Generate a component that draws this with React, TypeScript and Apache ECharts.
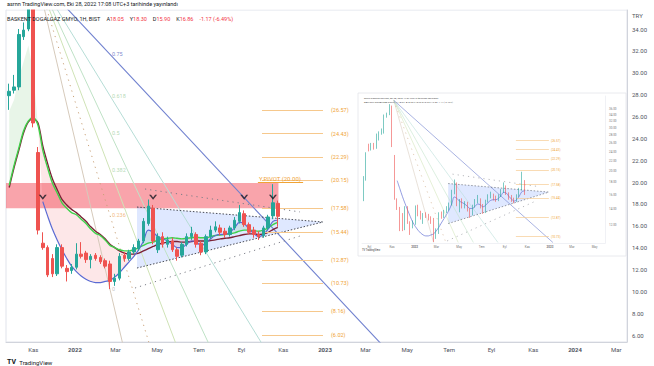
import React, { useEffect, useRef } from "react";
import * as echarts from "echarts";

// ---------- data (weekly candles, "1H" = 1 hafta) ----------
// x values are days counted from 2022-01-01; first weekly candle = 2021-09-27
const FIRST_WEEK_DAY = -96;
const WEEK_STEP = 7;

const candleOpen = [27.9, 28.4, 28.7, 33.3, 34.0, 36.5, 22.7, 14.4, 14.0, 13.0, 11.6, 14.0, 12.1, 11.9, 12.2, 13.4, 13.5, 12.9, 13.3, 13.1, 12.8, 12.5, 10.9, 11.2, 13.3, 13.0, 13.6, 13.9, 14.6, 16.2, 17.6, 13.8, 15.0, 14.3, 14.6, 13.8, 13.3, 14.3, 15.0, 15.2, 14.4, 13.6, 15.0, 15.6, 15.8, 15.5, 15.2, 15.8, 16.4, 17.1, 16.1, 15.6, 15.2, 15.1, 15.8, 16.9, 18.05];
const candleClose = [28.3, 28.7, 33.5, 33.9, 36.8, 25.4, 15.6, 14.0, 11.5, 11.6, 14.0, 12.3, 11.8, 12.2, 13.4, 13.2, 12.9, 13.2, 13.0, 12.7, 12.3, 10.9, 11.2, 13.2, 13.0, 13.6, 14.0, 14.6, 16.4, 17.8, 14.6, 15.0, 14.3, 14.7, 13.8, 13.2, 14.3, 15.0, 15.3, 14.3, 13.6, 15.0, 15.6, 15.9, 15.4, 15.2, 15.8, 16.5, 17.2, 16.1, 15.4, 15.2, 15.0, 15.8, 16.8, 18.1, 16.86];
const candleLow = [26.6, 28.1, 28.4, 33.0, 33.8, 25.0, 15.2, 13.8, 11.3, 11.3, 11.4, 12.1, 10.9, 11.6, 12.0, 13.0, 12.6, 12.1, 12.8, 12.5, 12.1, 10.2, 10.5, 11.0, 12.7, 12.8, 13.4, 13.7, 14.4, 16.0, 14.3, 13.5, 14.0, 14.0, 13.6, 12.8, 13.1, 14.1, 14.7, 14.0, 13.3, 13.4, 14.8, 15.4, 15.1, 14.9, 15.0, 15.6, 16.2, 15.9, 15.2, 14.9, 14.7, 14.9, 15.6, 16.6, 15.9];
const candleHigh = [29.0, 29.8, 34.0, 34.6, 37.5, 37.0, 23.2, 15.4, 14.2, 13.4, 14.3, 14.3, 12.4, 12.5, 14.4, 14.5, 13.7, 13.4, 13.5, 13.3, 13.0, 12.8, 11.6, 13.5, 13.6, 13.8, 14.3, 14.8, 16.7, 18.4, 17.9, 15.3, 15.4, 15.0, 14.9, 14.0, 14.5, 15.3, 15.9, 15.4, 14.6, 15.2, 16.0, 16.4, 16.1, 15.8, 16.0, 16.8, 17.9, 17.4, 16.3, 15.9, 15.5, 16.0, 17.0, 19.8, 18.3];

// earlier weeks only visible in the small inset screenshot
const earlyDays = [-138, -131, -124, -117, -110, -103];
const earlyOpen = [15.5, 18.5, 25.0, 24.5, 25.5, 24.8];
const earlyClose = [18.5, 23.0, 24.5, 25.3, 24.8, 27.9];
const earlyLow = [15.0, 18.2, 24.0, 24.2, 24.4, 24.6];
const earlyHigh = [19.0, 23.8, 25.8, 26.0, 26.0, 28.4];

const maGreen = [19.7, 21.5, 23.1, 24.7, 25.6, 25.9, 25.2, 22.9, 21.3, 19.9, 19.0, 18.1, 17.6, 17.2, 17.0, 16.6, 16.2, 15.7, 15.3, 15.1, 14.7, 14.2, 14.0, 13.8, 13.7, 13.7, 13.8, 14.0, 14.2, 14.4, 14.5, 14.7, 14.8, 14.85, 14.9, 14.85, 14.8, 14.85, 14.9, 14.95, 14.9, 14.9, 15.0, 15.1, 15.15, 15.2, 15.25, 15.35, 15.5, 15.6, 15.6, 15.55, 15.5, 15.6, 15.8, 16.1, 16.3];
const maMaroon = [19.5, 21.3, 22.9, 24.5, 25.5, 25.8, 25.4, 23.3, 21.7, 20.3, 19.3, 18.4, 17.9, 17.5, 17.2, 16.8, 16.4, 15.9, 15.5, 15.2, 14.8, 14.3, 14.0, 13.7, 13.5, 13.4, 13.4, 13.5, 13.7, 13.9, 14.1, 14.3, 14.4, 14.5, 14.55, 14.55, 14.5, 14.5, 14.55, 14.6, 14.6, 14.6, 14.65, 14.7, 14.8, 14.85, 14.9, 15.0, 15.1, 15.2, 15.25, 15.25, 15.2, 15.25, 15.4, 15.65, 15.85];
const fastLine = [26.5, 27.5, 29.5, 31.0, 32.5, 30.0, 25.2, 18.2, 16.9, 15.7, 14.7, 13.8, 13.0, 12.3, 11.8, 11.4, 11.1, 10.9, 10.8, 10.8, 10.9, 11.0, 11.3, 11.7, 12.2, 12.7, 13.2, 13.8, 14.6, 15.6, 15.4, 15.0, 14.8, 14.6, 14.3, 14.0, 14.0, 14.3, 14.6, 14.5, 14.2, 14.4, 14.8, 15.1, 15.2, 15.2, 15.4, 15.8, 16.3, 16.2, 15.7, 15.3, 15.0, 15.2, 15.7, 16.4, 16.5];
const BLUE_FROM_WEEK = 7;

const yTicks = [6, 8, 10, 12, 14, 16, 18, 20, 22, 24, 26, 28, 30, 32, 34];
const xTickDays = [-61, 0, 59, 120, 181, 243, 304, 365, 424, 485, 546, 608, 669, 730, 790];
const xTickLabels = ["Kas", "2022", "Mar", "May", "Tem", "Eyl", "Kas", "2023", "Mar", "May", "Tem", "Eyl", "Kas", "2024", "Mar"];
const insetTickDays = [-122, -61, 0, 59, 120, 181, 243, 304, 365, 424, 485];
const insetTickLabels = ["Eyl", "Kas", "2022", "Mar", "May", "Tem", "Eyl", "Kas", "2023", "Mar", "May"];
const insetYTicks = [12, 14, 16, 18, 20, 22, 24, 26, 28, 30, 32, 34, 36];

const fibLevels = [26.57, 24.43, 22.29, 20.15, 17.58, 15.44, 12.87, 10.73, 8.16, 6.02];
const fibSpan = [273, 362];
const pivotValue = 20.0;
const pivotSpan = [267, 333];
const zoneValues = [17.6, 19.9];
const zoneSpan = [-101, 297];

const trianglePts = [[90.5, 17.71], [362, 16.34], [90.5, 12.13]];
const upperChannel = [[102.2, 19.36], [328.5, 17.26]];
const lowerChannel = [[87.6, 10.3], [328.5, 15.06]];

const fanOrigin = [-56, 38.85];
const fanAnchor = [51, 10.2];
const fanLevels = [0, 0.236, 0.382, 0.5, 0.618, 0.75];
const fanLineColors = ["#d6cabb", "#c9a27a", "#cfe3b6", "#bfe2c6", "#b6ddd6", "#6f80cf"];
const fanLabelColors = ["#b9b9b9", "#f0a860", "#a3cfa3", "#a3cfa3", "#a3cfa3", "#5c6bc0"];

const chevronWeeks = [7, 30, 49, 55];
const chevronValue = 18.6;
const lastPrice = 16.86;

// ---------- helpers ----------
const FONT = "Roboto, 'Open Sans', sans-serif";
const UP = "#26a69a";
const DOWN = "#ef5350";
const weekDays = candleOpen.map((_, i) => FIRST_WEEK_DAY + WEEK_STEP * i);
const candleData = weekDays.map((d, i) => [d, candleOpen[i], candleClose[i], candleLow[i], candleHigh[i]]);
const earlyData = earlyDays.map((d, i) => [d, earlyOpen[i], earlyClose[i], earlyLow[i], earlyHigh[i]]);

function fanRay(level: number, target: number): number[][] {
  const pv = fanAnchor[1] + level * (fanOrigin[1] - fanAnchor[1]);
  const t = (fanOrigin[1] - target) / (fanOrigin[1] - pv);
  return [fanOrigin, [fanOrigin[0] + (fanAnchor[0] - fanOrigin[0]) * t, target]];
}

function bandRenderer(xs: number[], upper: number[], lower: number[], pos: string, neg: string) {
  return (_p: any, api: any) => {
    const pts: number[][] = [];
    for (let i = 0; i < xs.length; i++) {
      pts.push([xs[i], upper[i], lower[i]]);
      if (i < xs.length - 1) {
        const d0 = upper[i] - lower[i];
        const d1 = upper[i + 1] - lower[i + 1];
        if (d0 * d1 < 0) {
          const t = d0 / (d0 - d1);
          const x = xs[i] + t * (xs[i + 1] - xs[i]);
          const y = lower[i] + t * (lower[i + 1] - lower[i]);
          pts.push([x, y, y]);
        }
      }
    }
    const children: any[] = [];
    let run: number[][] = [];
    const flush = () => {
      if (run.length < 2) return;
      let s = 0;
      for (const p of run) {
        const d = p[1] - p[2];
        if (d !== 0) { s = d; break; }
      }
      if (s === 0) return;
      const top = run.map((p) => api.coord([p[0], p[1]]));
      const bot = run.slice().reverse().map((p) => api.coord([p[0], p[2]]));
      children.push({ type: "polygon", shape: { points: top.concat(bot) }, style: { fill: s > 0 ? pos : neg }, silent: true });
    };
    for (let k = 0; k < pts.length; k++) {
      run.push(pts[k]);
      if (pts[k][1] === pts[k][2] && k > 0 && k < pts.length - 1) {
        flush();
        run = [pts[k]];
      }
    }
    flush();
    return { type: "group", children };
  };
}

function buildOption() {
  const series: any[] = [];
  const grids = [
    { xi: 0, yi: 0, inset: false },
    { xi: 1, yi: 1, inset: true },
  ];

  grids.forEach(({ xi, yi, inset }) => {
    const ax = { xAxisIndex: xi, yAxisIndex: yi };
    const s = inset ? 0.55 : 1;

    if (!inset) {
      series.push({
        type: "custom", ...ax, z: 1, silent: true, clip: true,
        renderItem: bandRenderer(weekDays, fastLine, maGreen, "rgba(76,175,80,0.13)", "rgba(242,54,69,0.12)"),
        data: [[weekDays[10], maGreen[10]]],
        markArea: {
          silent: true,
          itemStyle: { color: "rgba(242,54,69,0.45)" },
          data: [[{ coord: [zoneSpan[0], zoneValues[1]] }, { coord: [zoneSpan[1], zoneValues[0]] }]],
        },
      });
    }

    // triangle
    series.push({
      type: "custom", ...ax, z: 1, silent: true, clip: true,
      renderItem: (_p: any, api: any) => ({
        type: "polygon",
        shape: { points: trianglePts.map((v) => api.coord(v)) },
        style: { fill: "rgba(41,98,255,0.15)" },
      }),
      data: [trianglePts[0]],
    });

    // fan rays
    fanLevels.forEach((lv, k) => {
      series.push({
        type: "line", ...ax, z: 2, silent: true, clip: true, symbol: "none",
        data: fanRay(lv, inset ? 10.15 : -30),
        lineStyle: {
          color: fanLineColors[k],
          width: k === fanLevels.length - 1 ? 1.1 * s : 1 * s,
          type: lv === 0.236 ? [1.2, 4.5] : "solid",
        },
      });
    });

    // triangle edges & channel lines
    const edgeLines = [
      { pts: [trianglePts[0], trianglePts[1]], color: "#4a4d57", dash: [1.5, 1.8] },
      { pts: [trianglePts[2], trianglePts[1]], color: "#4a4d57", dash: [1.5, 1.8] },
      { pts: upperChannel, color: "#7d7f88", dash: [1.2, 4] },
      { pts: lowerChannel, color: "#7d7f88", dash: [1.2, 4] },
    ];
    edgeLines.forEach((e) => {
      series.push({
        type: "line", ...ax, z: 3, silent: true, clip: true, symbol: "none",
        data: e.pts, lineStyle: { color: e.color, width: 1 * s, type: e.dash },
      });
    });

    // fib levels (+ pivot)
    series.push({
      type: "line", ...ax, z: 3, silent: true, data: [],
      markLine: {
        silent: true, symbol: ["none", "none"], animation: false,
        lineStyle: { color: "#f6c88c", width: 1.2 * s, type: "solid" },
        label: {
          show: true, position: "end", distance: inset ? 2 : 8, formatter: "{b}",
          color: "#f0a335", fontSize: inset ? 3 : 5.5, fontFamily: FONT,
        },
        data: fibLevels
          .filter((v) => !inset || v > 10.2)
          .map((v) => [
            { coord: [fibSpan[0], v], name: "(" + v.toFixed(2) + ")" },
            { coord: [fibSpan[1], v] },
          ])
          .concat(
            inset ? [] : [[
              {
                coord: [pivotSpan[0], pivotValue], name: "Y.PIVOT (" + pivotValue.toFixed(2) + ")",
                lineStyle: { color: "#f0a335", width: 1 },
                label: { position: "insideStartTop", distance: 1, fontSize: 6, color: "#f0a335" },
              } as any,
              { coord: [pivotSpan[1], pivotValue] },
            ]]
          ),
      },
    });

    if (!inset) {
      series.push({
        type: "line", ...ax, z: 4, silent: true, symbol: "none", smooth: 0.3,
        data: weekDays.map((d, i) => [d, maMaroon[i]]),
        lineStyle: { color: "#7b2236", width: 1.4 },
      });
      series.push({
        type: "line", ...ax, z: 4, silent: true, symbol: "none", smooth: 0.3,
        data: weekDays.map((d, i) => [d, maGreen[i]]),
        lineStyle: { color: "#3fd14a", width: 1.4 },
      });
    }

    series.push({
      type: "line", ...ax, z: 4, silent: true, symbol: "none", smooth: 0.35, clip: true,
      data: weekDays.slice(BLUE_FROM_WEEK).map((d, i) => [d, fastLine[i + BLUE_FROM_WEEK]]),
      lineStyle: { color: "#5b6bd3", width: 1.2 * s },
    });

    series.push({
      type: "candlestick", ...ax, z: 5, silent: true, clip: true,
      data: inset ? earlyData.concat(candleData) : candleData,
      encode: { x: 0, y: [1, 2, 3, 4] },
      barWidth: inset ? 1.3 : 3,
      itemStyle: { color: UP, color0: DOWN, borderColor: UP, borderColor0: DOWN, borderWidth: inset ? 0.6 : 1 },
    });

    if (!inset) {
      series.push({
        type: "scatter", ...ax, z: 6, silent: true,
        symbol: "path://M0,0 L2.4,0 L5,3.1 L7.6,0 L10,0 L5,5.6 Z",
        symbolSize: [8, 5],
        itemStyle: { color: "#131722" },
        data: chevronWeeks.map((w) => [weekDays[w], chevronValue]),
      });
      series.push({
        type: "scatter", ...ax, z: 6, silent: true, symbolSize: 0,
        data: fanLevels.map((lv, k) => ({
          value: [fanAnchor[0], fanAnchor[1] + lv * (fanOrigin[1] - fanAnchor[1])],
          label: { color: fanLabelColors[k] },
        })),
        label: {
          show: true, position: "right", distance: 2, fontSize: 5.5, fontFamily: FONT,
          formatter: (p: any) => String(fanLevels[p.dataIndex]),
        },
      });
      series.push({
        type: "line", ...ax, z: 7, silent: true, data: [],
        markLine: {
          silent: true, symbol: ["none", "none"],
          lineStyle: { opacity: 0 },
          label: {
            show: true, position: "end", distance: 1, formatter: (p: any) => Number(p.value).toFixed(2),
            backgroundColor: "#f23645", color: "#fff", padding: [2, 4, 2, 3], fontSize: 5.5, fontFamily: FONT,
          },
          data: [{ yAxis: lastPrice }],
        },
      });
    }
  });

  const xLabelFmt = (days: number[], labels: string[]) => (v: number) => {
    const k = days.indexOf(v);
    if (k < 0) return "";
    const t = labels[k];
    return /^\d+$/.test(t) ? "{b|" + t + "}" : t;
  };

  return {
    animation: false,
    backgroundColor: "#ffffff",
    textStyle: { fontFamily: FONT },
    grid: [
      { left: 6, top: 10, width: 621, height: 332, show: true, borderColor: "#e0e3eb", borderWidth: 1 },
      { left: 362, top: 96, width: 243, height: 147, show: false },
    ],
    xAxis: [
      {
        type: "value", gridIndex: 0, min: -100.7, max: 805.8,
        axisLine: { show: true, onZero: false, lineStyle: { color: "#d1d4dc" } },
        axisTick: { show: false }, splitLine: { show: false },
        axisLabel: {
          customValues: xTickDays, formatter: xLabelFmt(xTickDays, xTickLabels),
          fontSize: 6, color: "#50535e", margin: 4, fontFamily: FONT,
          rich: { b: { fontSize: 6, fontWeight: "bold", color: "#50535e", fontFamily: FONT } },
        },
      },
      {
        type: "value", gridIndex: 1, min: -141.8, max: 513.2,
        axisLine: { show: true, onZero: false, lineStyle: { color: "#e6e8ee", width: 0.6 } },
        axisTick: { show: false }, splitLine: { show: false },
        axisLabel: {
          customValues: insetTickDays, formatter: xLabelFmt(insetTickDays, insetTickLabels),
          fontSize: 3, color: "#777", margin: 2, fontFamily: FONT,
          rich: { b: { fontSize: 3, fontWeight: "bold", color: "#777" } },
        },
      },
    ],
    yAxis: [
      {
        type: "value", gridIndex: 0, position: "right", min: 5.36, max: 35.74,
        axisLine: { show: true, onZero: false, lineStyle: { color: "#d1d4dc" } },
        axisTick: { show: false }, splitLine: { show: false },
        axisLabel: {
          customValues: yTicks, formatter: (v: number) => v.toFixed(2),
          fontSize: 6, color: "#50535e", margin: 5, fontFamily: FONT,
        },
      },
      {
        type: "log", logBase: 10, gridIndex: 1, position: "right", min: 10.1, max: 40.5,
        axisLine: { show: true, onZero: false, lineStyle: { color: "#e6e8ee", width: 0.6 } },
        axisTick: { show: false }, splitLine: { show: false },
        axisLabel: {
          customValues: insetYTicks, formatter: (v: number) => Number(v).toFixed(2),
          fontSize: 3, color: "#777", margin: 4, fontFamily: FONT,
        },
      },
    ],
    graphic: [
      {
        type: "rect", z: 0, silent: true,
        shape: { x: 358, y: 93, width: 268, height: 163 },
        style: { fill: "#ffffff", stroke: "#e3e5ea", lineWidth: 0.8 },
      },
      {
        type: "rect", z: 100, silent: true,
        shape: { x: 6.5, y: 0, width: 620, height: 9.5 },
        style: { fill: "#ffffff" },
      },
      {
        type: "text", left: 7, top: 1, silent: true, z: 101,
        style: { text: "asrnn TradingView.com, Eki 28, 2022 17:08 UTC+3 tarihinde yayınlandı", fontSize: 5.5, fill: "#131722", fontFamily: FONT },
      },
      {
        type: "text", left: 7, top: 13, silent: true, z: 101,
        style: {
          text: "{n|BASKENT DOGALGAZ GMYO, 1H, BIST}  {l|A}{v|18.05}  {l|Y}{v|18.30}  {l|D}{v|15.90}  {l|K}{v|16.86}  {v|-1.17 (-6.49%)}",
          fontFamily: FONT,
          rich: {
            n: { fontSize: 5.5, fill: "#131722", fontFamily: FONT },
            l: { fontSize: 5.5, fill: "#131722", fontFamily: FONT },
            v: { fontSize: 5.5, fill: "#f23645", fontFamily: FONT },
          },
        },
      },
      {
        type: "text", left: 632, top: 12, silent: true, z: 101,
        style: { text: "TRY", fontSize: 6, fill: "#50535e", fontFamily: FONT },
      },
      {
        type: "text", left: 7, top: 356, silent: true,
        style: {
          text: "{l|TV} {t|TradingView}",
          rich: {
            l: { fontSize: 7, fontWeight: "bold", fill: "#131722", fontFamily: FONT },
            t: { fontSize: 6, fill: "#131722", fontFamily: FONT },
          },
        },
      },
      {
        type: "text", left: 364, top: 97, silent: true, z: 101,
        style: { text: "asrnn TradingView.com, Eki 28, 2022 17:07 UTC+3 tarihinde yayınlandı", fontSize: 2.4, fill: "#444", fontFamily: FONT },
      },
      {
        type: "text", left: 364, top: 101, silent: true, z: 101,
        style: { text: "BASKENT DOGALGAZ GMYO, 1H, BIST  A18.05 Y18.30 D15.90 K16.86 -1.17 (-6.49%)", fontSize: 2.4, fill: "#555", fontFamily: FONT },
      },
      {
        type: "text", left: 362, top: 249, silent: true,
        style: { text: "TV TradingView", fontSize: 2.6, fill: "#333", fontFamily: FONT },
      },
    ],
    series,
  };
}

export default function App() {
  const ref = useRef<HTMLDivElement>(null);
  useEffect(() => {
    if (!ref.current) return;
    const chart = echarts.init(ref.current, undefined, { renderer: "svg" });
    chart.setOption(buildOption() as any);
    return () => chart.dispose();
  }, []);
  return <div ref={ref} style={{ position: "absolute", left: 0, top: 0, width: 654, height: 366 }} />;
}
